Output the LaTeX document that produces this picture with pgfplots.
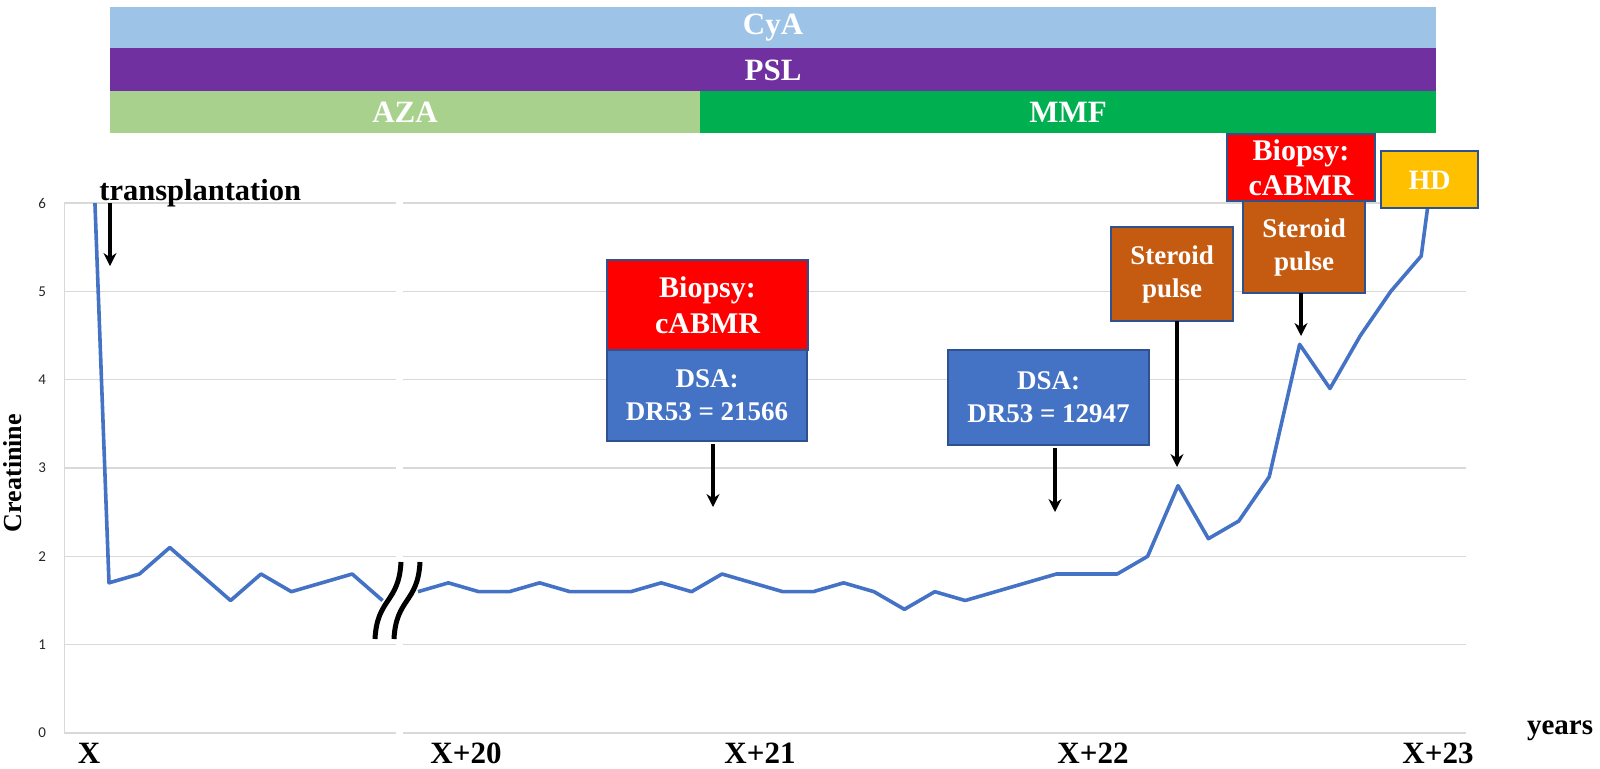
\documentclass[border=0pt]{standalone}
\usepackage{fontspec}
\setmainfont{Liberation Serif}
\newfontfamily\tickfont{Carlito}
\usepackage{pgfplots}
\pgfplotsset{compat=1.18}
\usepackage{pgfplotstable}
\usetikzlibrary{arrows.meta}

\definecolor{cya}{HTML}{9DC3E6}
\definecolor{psl}{HTML}{7030A0}
\definecolor{aza}{HTML}{A9D18E}
\definecolor{mmf}{HTML}{00B050}
\definecolor{linec}{HTML}{4472C4}
\definecolor{boxblue}{HTML}{4472C4}
\definecolor{boxred}{HTML}{FF0000}
\definecolor{boxorange}{HTML}{C55A11}
\definecolor{boxgold}{HTML}{FFC000}
\definecolor{edge}{HTML}{2F528F}
\definecolor{gridc}{HTML}{D9D9D9}

% creatinine after transplantation (year X), index = visit
\pgfplotstableread{
i cr
-1 11.0
0 1.7
1 1.8
2 2.1
3 1.8
4 1.5
5 1.8
6 1.6
7 1.7
8 1.8
9 1.5
}\early

% creatinine from year X+20 on
\pgfplotstableread{
i cr
0 1.6
1 1.7
2 1.6
3 1.6
4 1.7
5 1.6
6 1.6
7 1.6
8 1.7
9 1.6
10 1.8
11 1.7
12 1.6
13 1.6
14 1.7
15 1.6
16 1.4
17 1.6
18 1.5
19 1.6
20 1.7
21 1.8
22 1.8
23 1.8
24 2.0
25 2.8
26 2.2
27 2.4
28 2.9
29 4.4
30 3.9
31 4.5
32 5.0
33 5.4
34 8.0
}\late

\pgfplotsset{
  panel/.style={scale only axis, height=265pt, ymin=0, ymax=6,
    enlargelimits=false, ytick={0,...,6}, ymajorgrids,
    grid style={gridc, line width=0.75pt},
    xtick=\empty, axis line style={draw=none}, major tick length=0pt,
    tick label style={font=\tickfont\fontsize{7.5}{9}\selectfont, text=black!85},
    /pgf/number format/assume math mode=true},
}
\tikzset{
  crline/.style={linec, line width=1.8pt, line join=round, mark=none},
  lab/.style={font=\bfseries\fontsize{15.5}{18}\selectfont},
  btxt/.style={font=\bfseries\fontsize{13.5}{16.5}\selectfont, text=white, align=center},
  bigtxt/.style={font=\bfseries\fontsize{15}{18}\selectfont, text=white, align=center},
  arr/.style={-{Stealth[length=6.5pt,width=6.5pt]}, line width=1.6pt},
  bx/.style={draw=edge, line width=0.75pt},
}

\begin{document}
\begin{tikzpicture}
\path[use as bounding box] (0pt,0pt) rectangle (800pt,-384pt);

\begin{axis}[panel, at={(32pt,-366.5pt)}, anchor=south west, width=166pt,
  xmin=-1.480, xmax=9.441,
  yticklabel style={xshift=-5.5pt}]
\addplot[crline] table[x=i, y=cr] {\early};
\draw[gridc, line width=0.75pt] (rel axis cs:0,0) -- (rel axis cs:0,1);
\end{axis}

\begin{axis}[panel, at={(201.5pt,-366.5pt)}, anchor=south west, width=531.5pt,
  xmin=-0.493, xmax=34.474, yticklabels={}]
\addplot[crline] table[x=i, y=cr] {\late};
\end{axis}

% annotation layer in pixel units of the page
\begin{axis}[at={(0pt,0pt)}, anchor=north west, scale only axis,
  width=800pt, height=384pt, xmin=0, xmax=1600, ymin=0, ymax=768,
  y dir=reverse, hide axis, clip=false]
% treatment bars
\fill[cya] (110,7) rectangle (1436,48);
\fill[psl] (110,48) rectangle (1436,91);
\fill[aza] (110,91) rectangle (700,133);
\fill[mmf] (700,91) rectangle (1436,133);
\node[lab, text=white] at (773,28) {CyA};
\node[lab, text=white] at (773,70) {PSL};
\node[lab, text=white] at (405,112) {AZA};
\node[lab, text=white] at (1068,112) {MMF};

% axis texts
\node[font=\bfseries\fontsize{13}{15}\selectfont, rotate=90] at (13,473) {Creatinine};
\node[lab, anchor=base] at (89,763) {X};
\node[lab, anchor=base] at (466,763) {X+20};
\node[lab, anchor=base] at (760,763) {X+21};
\node[lab, anchor=base] at (1093,763) {X+22};
\node[lab, anchor=base] at (1438,763) {X+23};
\node[font=\bfseries\fontsize{14.5}{16}\selectfont, anchor=base] at (1560,734) {years};

% axis break
\draw[line width=2.5pt] (375,639) .. controls (377,598) and (399,603) .. (401,562);
\draw[line width=2.5pt] (394,639) .. controls (396,598) and (418,603) .. (420,562);

% transplantation
\node[font=\bfseries\fontsize{15.25}{18}\selectfont, anchor=base west, inner sep=0pt] at (99,200) {transplantation};
\draw[arr] (110,203) -- (110,266);

% first biopsy and DSA
\filldraw[fill=boxred, bx] (607,260) rectangle (808,350);
\node[bigtxt] at (707.5,305) {Biopsy:\\cABMR};
\filldraw[fill=boxblue, bx] (607,350) rectangle (807,441);
\node[btxt] at (707,395) {DSA:\\DR53 = 21566};
\draw[arr] (713,444) -- (713,507);

% second DSA
\filldraw[fill=boxblue, bx] (948,350) rectangle (1149,445);
\node[btxt] at (1048.5,397.5) {DSA:\\DR53 = 12947};
\draw[arr] (1055,448) -- (1055,512);

% first steroid pulse
\filldraw[fill=boxorange, bx] (1111,227) rectangle (1233,321);
\node[btxt] at (1172,274) {Steroid\\pulse};
\draw[arr] (1177,321) -- (1177,467);

% second biopsy and steroid pulse
\filldraw[fill=boxorange, bx] (1243,201) rectangle (1365,293);
\node[btxt] at (1304,247) {Steroid\\pulse};
\filldraw[fill=boxred, bx] (1227,134) rectangle (1375,201);
\node[font=\bfseries\fontsize{15}{17.5}\selectfont, text=white, align=center] at (1301,168) {Biopsy:\\cABMR};
\draw[arr] (1301,293) -- (1301,336);

% haemodialysis
\filldraw[fill=boxgold, bx] (1381,151) rectangle (1478,208);
\node[font=\bfseries\fontsize{14}{16}\selectfont, text=white] at (1429.5,180) {HD};
\end{axis}
\end{tikzpicture}
\end{document}
